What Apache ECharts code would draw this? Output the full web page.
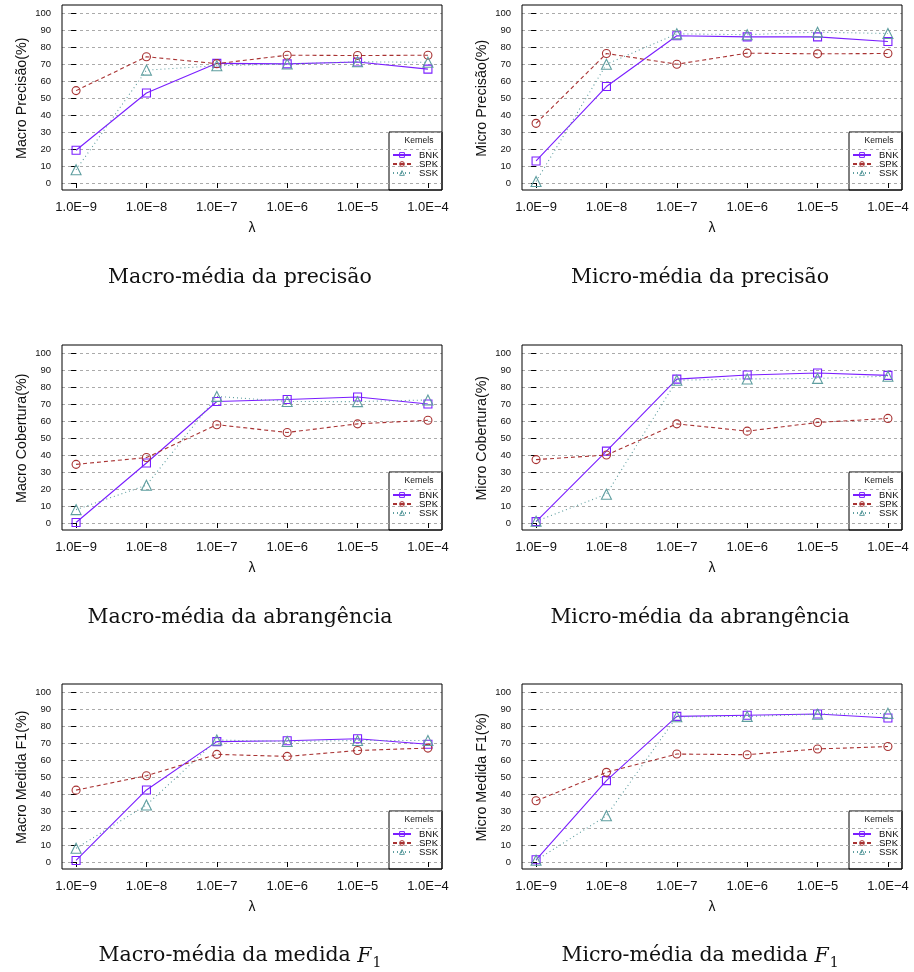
<!DOCTYPE html>
<html>
<head>
<meta charset="utf-8">
<script src="https://cdn.jsdelivr.net/npm/echarts@6/dist/echarts.min.js"></script>
<style>html,body{margin:0;padding:0;background:#fff}#main{width:914px;height:972px}</style>
</head>
<body>
<div id="main"></div>
<script>
// ---- data ----
const lambdas = ['1.0E\u22129', '1.0E\u22128', '1.0E\u22127', '1.0E\u22126', '1.0E\u22125', '1.0E\u22124'];
const kernels = ['BNK', 'SPK', 'SSK'];

const macroPrecisaoBNK = [19.3, 53.1, 70.6, 70.3, 71.4, 67.2];
const macroPrecisaoSPK = [54.5, 74.5, 70.4, 75.4, 75.2, 75.4];
const macroPrecisaoSSK = [7.8, 66.6, 69.2, 70.2, 71.5, 71.2];

const microPrecisaoBNK = [13.0, 56.9, 86.9, 86.2, 86.2, 83.5];
const microPrecisaoSPK = [35.2, 76.4, 70.1, 76.6, 76.2, 76.4];
const microPrecisaoSSK = [0.9, 70.1, 88.0, 87.5, 89.0, 88.2];

const macroCoberturaBNK = [0.3, 35.4, 71.7, 72.9, 74.3, 70.2];
const macroCoberturaSPK = [34.6, 38.6, 58.0, 53.4, 58.5, 60.6];
const macroCoberturaSSK = [7.9, 22.3, 74.7, 71.7, 71.6, 72.6];

const microCoberturaBNK = [0.8, 42.4, 84.9, 87.3, 88.5, 87.1];
const microCoberturaSPK = [37.4, 40.1, 58.5, 54.2, 59.3, 61.7];
const microCoberturaSSK = [1.0, 17.0, 84.2, 85.0, 85.3, 86.6];

const macroF1BNK = [0.9, 42.5, 71.0, 71.5, 72.7, 69.5];
const macroF1SPK = [42.4, 50.9, 63.5, 62.3, 65.8, 67.2];
const macroF1SSK = [8.1, 33.6, 72.0, 71.1, 71.7, 71.7];

const microF1BNK = [1.3, 48.0, 85.9, 86.6, 87.3, 85.0];
const microF1SPK = [36.1, 52.9, 63.7, 63.3, 66.7, 68.1];
const microF1SSK = [1.0, 27.3, 85.7, 85.9, 87.2, 87.7];

const yAxisNames = ['Macro Precisão(%)', 'Micro Precisão(%)', 'Macro Cobertura(%)', 'Micro Cobertura(%)', 'Macro Medida F1(%)', 'Micro Medida F1(%)'];
const captions = ['Macro-média da precisão', 'Micro-média da precisão', 'Macro-média da abrangência', 'Micro-média da abrangência', 'Macro-média da medida ', 'Micro-média da medida '];
const captionItalic = ['', '', '', '', 'F', 'F'];
const captionSub = ['', '', '', '', '1', '1'];
const xAxisName = 'λ';
const legendTitle = 'Kernels';

const panelData = [
  [macroPrecisaoBNK, macroPrecisaoSPK, macroPrecisaoSSK],
  [microPrecisaoBNK, microPrecisaoSPK, microPrecisaoSSK],
  [macroCoberturaBNK, macroCoberturaSPK, macroCoberturaSSK],
  [microCoberturaBNK, microCoberturaSPK, microCoberturaSSK],
  [macroF1BNK, macroF1SPK, macroF1SSK],
  [microF1BNK, microF1SPK, microF1SSK]
];

// ---- styles / layout ----
const colors = ['#7A1EFF', '#A83232', '#5F9EA0'];
const lineTypes = ['solid', [4, 3], [1, 3]];
const symbols = ['rect', 'circle', 'triangle'];
const symbolSizes = [8, 8, 10];
const SANS = 'Liberation Sans';
const SERIF = 'DejaVu Serif';

const boxLefts = [62, 522];
const boxTops = [5, 345, 684];
const boxW = 380, boxH = 185;
const gridTopOff = 8.5, gridH = 169.5;
const captionYs = [278, 618, 956];

const grids = [], xAxes = [], yAxes = [], series = [], legends = [], graphics = [];

for (let p = 0; p < 6; p++) {
  const c = p % 2, r = Math.floor(p / 2);
  const L = boxLefts[c], T = boxTops[r];
  grids.push({ left: L, top: T + gridTopOff, width: boxW, height: gridH, containLabel: false });
  xAxes.push({
    gridIndex: p, type: 'value', min: -0.2, max: 5.2,
    offset: boxH - gridTopOff - gridH,
    axisLine: { show: false },
    axisTick: { show: true, length: 5, customValues: [0, 1, 2, 3, 4, 5], lineStyle: { color: '#000' } },
    axisLabel: { customValues: [0, 1, 2, 3, 4, 5], formatter: v => lambdas[Math.round(v)], fontFamily: SANS, fontSize: 13, color: '#111', margin: 11 },
    splitLine: { show: false },
    name: xAxisName, nameLocation: 'middle', nameGap: 31,
    nameTextStyle: { fontFamily: SANS, fontSize: 14, color: '#111' }
  });
  yAxes.push({
    gridIndex: p, type: 'value', min: 0, max: 100, interval: 10,
    axisLine: { show: false },
    axisTick: { show: true, length: 5, lineStyle: { color: '#000' } },
    axisLabel: { fontFamily: SANS, fontSize: 9.5, color: '#111', margin: 11 },
    splitLine: { show: true, lineStyle: { color: '#aaa', type: [3, 3], width: 1 } },
    name: yAxisNames[p], nameLocation: 'middle', nameGap: 33,
    nameTextStyle: { fontFamily: SANS, fontSize: 14.3, color: '#111' }
  });
  for (let k = 0; k < 3; k++) {
    series.push({
      type: 'line', name: kernels[k], xAxisIndex: p, yAxisIndex: p,
      data: panelData[p][k].map((v, i) => [i, v]),
      symbol: symbols[k], symbolSize: symbolSizes[k],
      lineStyle: { color: colors[k], width: 1.1, type: lineTypes[k] },
      itemStyle: { color: 'rgba(255,255,255,0)', borderColor: colors[k], borderWidth: 1.1 },
      z: 3 + k
    });
  }
  const R = L + boxW, B = T + boxH;
  legends.push({
    data: kernels, orient: 'vertical', left: R - 50, top: B - 40,
    itemWidth: 18, itemHeight: 6, itemGap: -1, padding: 0,
    itemStyle: { color: 'rgba(255,255,255,0)', borderWidth: 1 },
    textStyle: { fontFamily: SANS, fontSize: 9.5, color: '#111', lineHeight: 9, padding: [0, 0, 0, 3] },
    selectedMode: false
  });
  graphics.push({ type: 'rect', shape: { x: L, y: T, width: boxW, height: boxH }, style: { fill: 'none', stroke: '#000', lineWidth: 1 }, z: 10, silent: true });
  graphics.push({ type: 'rect', shape: { x: R - 53, y: B - 58, width: 53, height: 58 }, style: { fill: '#fff', stroke: '#000', lineWidth: 1 }, z: 0, silent: true });
  graphics.push({ type: 'text', x: R - 23, y: B - 49, style: { text: legendTitle, fontFamily: SANS, fontSize: 8.5, fill: '#111', textAlign: 'center', textVerticalAlign: 'middle' }, z: 10, silent: true });
  let capText = '{a|' + captions[p] + '}';
  if (captionItalic[p]) capText += '{i|' + captionItalic[p] + '}{s|' + captionSub[p] + '}';
  graphics.push({
    type: 'text', x: L + boxW / 2 - 12, y: captionYs[r],
    style: {
      text: capText, textAlign: 'center', textVerticalAlign: 'middle', fill: '#111',
      rich: {
        a: { fontFamily: SERIF, fontSize: 20.5, fill: '#111', verticalAlign: 'bottom' },
        i: { fontFamily: SERIF, fontSize: 20.5, fontStyle: 'italic', fill: '#111', verticalAlign: 'bottom' },
        s: { fontFamily: SERIF, fontSize: 14, fill: '#111', verticalAlign: 'bottom', padding: [0, 0, -4, 1] }
      }
    },
    silent: true
  });
}

const chart = echarts.init(document.getElementById('main'), null, { renderer: 'canvas' });
chart.setOption({
  animation: false,
  backgroundColor: '#fff',
  grid: grids, xAxis: xAxes, yAxis: yAxes, series: series, legend: legends,
  graphic: graphics
});
</script>
</body>
</html>
